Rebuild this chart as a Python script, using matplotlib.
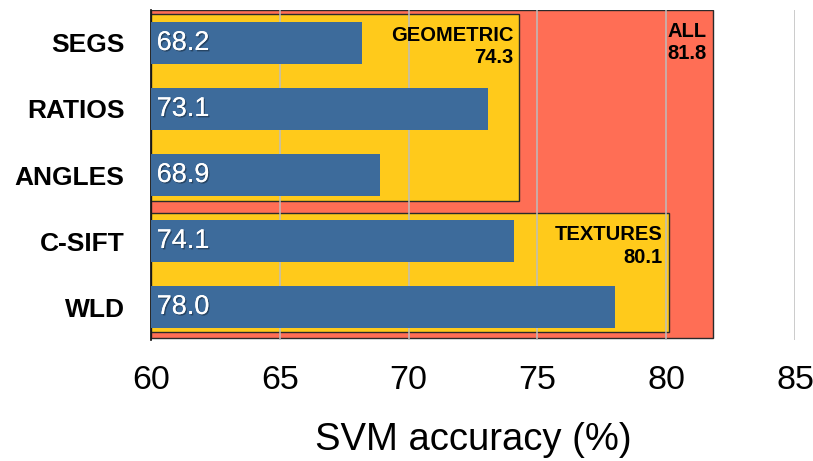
import matplotlib
matplotlib.use("Agg")
import matplotlib.pyplot as plt
import matplotlib.patheffects as pe
from matplotlib.patches import Rectangle

# Per-feature SVM accuracy (%)
features = ["SEGS", "RATIOS", "ANGLES", "C-SIFT", "WLD"]
accuracy = [68.2, 73.1, 68.9, 74.1, 78.0]

# Accuracy of combined feature groups
group_names = ["ALL", "GEOMETRIC", "TEXTURES"]
group_accuracy = [81.8, 74.3, 80.1]
# rows covered by each group (first, last)
group_rows = [(0, 4), (0, 2), (3, 4)]

x_min, x_max = 60, 85
x_ticks = [60, 65, 70, 75, 80, 85]

RED = "#FF6E55"
YELLOW = "#FFCA1B"
BLUE = "#3D6B9B"
FONT = "Liberation Sans"

fig = plt.figure(figsize=(8.13, 4.61), dpi=100)
ax = fig.add_axes([151 / 813, 1 - 340 / 461, 644 / 813, 330 / 461])

ax.set_xlim(x_min, x_max)
ax.set_ylim(4.5, -0.5)

# group background boxes
pads = {"ALL": (0.5, 0.47), "GEOMETRIC": (0.44, 0.40), "TEXTURES": (0.42, 0.38)}
colors = {"ALL": RED, "GEOMETRIC": YELLOW, "TEXTURES": YELLOW}
for name, val, (r0, r1) in zip(group_names, group_accuracy, group_rows):
    top_pad, bot_pad = pads[name]
    y0 = r0 - top_pad
    y1 = r1 + bot_pad
    rect = Rectangle((x_min, y0), val - x_min, y1 - y0,
                     facecolor=colors[name], edgecolor="#2a2a2a",
                     linewidth=1.0, zorder=1)
    ax.add_patch(rect)
    ax.annotate(f"{name}\n{val:.1f}", xy=(val, y0), xycoords="data",
                xytext=(-6, -12), textcoords="offset pixels",
                ha="right", va="top", multialignment="right",
                fontsize=14.5, fontweight="bold", family=FONT,
                linespacing=1.22, color="black", zorder=4)

# feature bars
y_pos = list(range(len(features)))
ax.barh(y_pos, [a - x_min for a in accuracy], left=x_min,
        height=0.65, color=BLUE, zorder=3)
for y, a in zip(y_pos, accuracy):
    ax.text(x_min + 0.22, y, f"{a:.1f}", ha="left", va="center",
            fontsize=19.5, family=FONT, color="white", zorder=5,
            path_effects=[pe.withSimplePatchShadow(offset=(1, -1),
                                                   shadow_rgbFace="black",
                                                   alpha=0.35),
                          pe.Normal()])

# grid and axes styling
ax.set_axisbelow("line")
ax.set_xticks(x_ticks)
ax.xaxis.grid(True, color="#bdbdbd", linewidth=1.1)
ax.set_yticks(y_pos)
ax.set_yticklabels(features, fontsize=19, fontweight="bold", family=FONT)
ax.set_xticklabels([str(t) for t in x_ticks], fontsize=24.5, family=FONT)
ax.tick_params(axis="y", length=0, pad=19)
ax.tick_params(axis="x", length=0, pad=18)
for s in ("top", "right", "bottom"):
    ax.spines[s].set_visible(False)
ax.spines["left"].set_color("black")
ax.spines["left"].set_linewidth(1.2)
ax.set_xlabel("SVM accuracy (%)", fontsize=27.5, family=FONT, labelpad=19)

fig.savefig("out.png", dpi=100)
